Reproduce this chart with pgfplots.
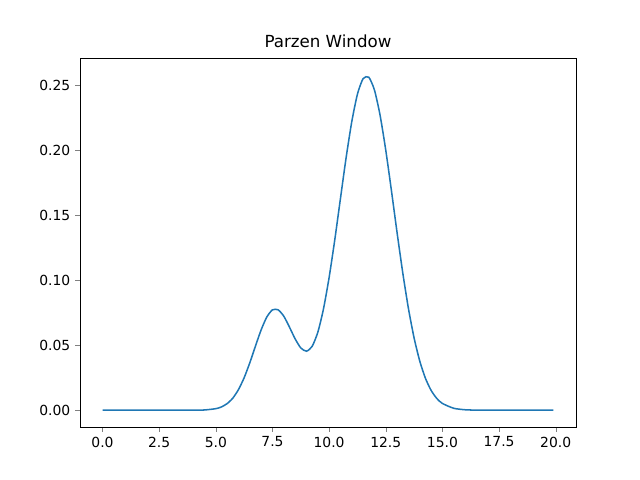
\documentclass[border=0pt]{standalone}
\usepackage{pgfplots}
\pgfplotsset{compat=1.18}
\usepackage{fontspec}
\setmainfont{DejaVu Sans}
\definecolor{mplblue}{HTML}{1F77B4}
\begin{document}
\begin{tikzpicture}
\useasboundingbox (0,0) rectangle (460.8pt,345.6pt);
\begin{axis}[
  at={(57.6pt,38.16pt)}, anchor=south west,
  scale only axis, width=357.1pt, height=265.7pt,
  xmin=-0.995, xmax=20.895, ymin=-0.0129, ymax=0.2709,
  xtick={0,2.5,...,20}, ytick={0,0.05,...,0.25},
  xticklabel style={/pgf/number format/.cd,fixed,fixed zerofill,precision=1},
  yticklabel style={/pgf/number format/.cd,fixed,fixed zerofill,precision=2},
  /pgf/number format/assume math mode=true,
  tick align=outside, tick pos=lower, major tick length=3.5pt,
  ticklabel style={font=\fontsize{10}{12}\selectfont},
  title={Parzen Window}, title style={font=\fontsize{12}{14}\selectfont, yshift=-2pt},
]
\addplot[mplblue, line width=1.1pt, smooth, tension=0.4] coordinates {
(0,0)(1,0)(2,0)(3,0)(4,0.00003)(4.5,0.0002)(5,0.0012)(5.25,0.00255)(5.5,0.0051)(5.75,0.0093)
(6,0.0159)(6.25,0.0250)(6.5,0.0365)(6.75,0.0494)(7,0.0618)(7.25,0.0717)(7.5,0.0772)(7.75,0.0772)
(8,0.0723)(8.25,0.0639)(8.5,0.0549)(8.75,0.0479)(9,0.0454)(9.25,0.0491)(9.5,0.0599)(9.75,0.0778)
(10,0.1021)(10.25,0.1311)(10.5,0.1628)(10.75,0.1942)(11,0.2219)(11.25,0.2431)(11.5,0.2550)(11.75,0.2561)
(12,0.2463)(12.25,0.2268)(12.5,0.2000)(12.75,0.1689)(13,0.1365)(13.25,0.1057)(13.5,0.0783)(13.75,0.0556)
(14,0.0378)(14.25,0.0246)(14.5,0.0153)(14.75,0.0091)(15,0.0052)(15.5,0.0015)(16,0.00036)(16.5,0.00007)
(17,0)(18,0)(19,0)(19.9,0)
};
\end{axis}
\end{tikzpicture}
\end{document}
